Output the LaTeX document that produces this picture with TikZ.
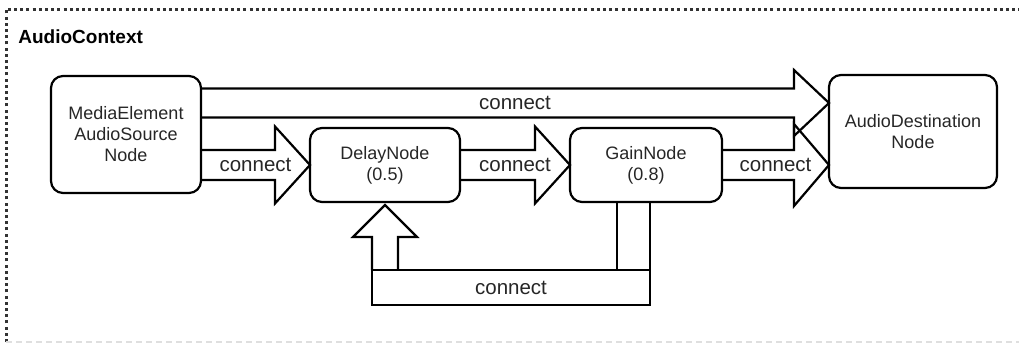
\documentclass[tikz,border=0pt]{standalone}
\usepackage{fontspec}
\setmainfont{Liberation Sans}
\usetikzlibrary{calc}

\begin{document}
\begin{tikzpicture}[x=0.5pt, y=-0.5pt,
    box/.style={draw, line width=1.1pt, rounded corners=6pt, align=center, inner sep=0pt, outer sep=0pt,
        text=black!85, font=\fontsize{9}{10.5}\selectfont},
    blockline/.style={draw, line width=1.1pt, line join=miter},
    conlabel/.style={inner sep=0pt, outer sep=0pt, text=black!85, font=\fontsize{10.25}{12}\selectfont}]
    \useasboundingbox (0,0) rectangle (1019,343);
    % context frame
    \draw[black!80, line width=1.5pt, dash pattern=on 1.5pt off 1.6pt] (6,342) -- (6,9) -- (1019,9);
    \draw[gray!25, line width=0.6pt, dash pattern=on 3pt off 2pt] (6,342) -- (1019,342);
    \node[anchor=base west, inner sep=0pt, font=\bfseries\fontsize{9.5}{11}\selectfont] (ctx) at (18,43) {AudioContext};
    % audio nodes
    \node[box, minimum width=75pt, minimum height=58.5pt] (src) at (126,134.5) {MediaElement\\AudioSource\\Node};
    \node[box, minimum width=75pt, minimum height=37pt] (dly) at (385,165) {DelayNode\\(0.5)};
    \node[box, minimum width=76pt, minimum height=37pt] (gain) at (646,165) {GainNode\\(0.8)};
    \node[box, minimum width=84pt, minimum height=56.5pt] (dest) at (913,131.5) {AudioDestination\\Node};
    % block arrows
    \coordinate (s1) at ($(src.north east)+(0,27)$);
    \coordinate (e1) at (dest.west |- s1);
    \coordinate (s2) at (src.east |- dly.west);
    \coordinate (e4) at (dest.west |- gain.east);
    \foreach \a/\b/\w/\h [count=\i] in {s1/e1/14.5/33, s2/dly.west/15/38.5, dly.east/gain.west/15/38.5, gain.east/e4/15/41}{
        \draw[blockline] ($(\a)+(0,-\w)$) -- ($(\b)+(-35,-\w)$) -- ($(\b)+(-35,-\h)$) -- (\b)
            -- ($(\b)+(-35,\h)$) -- ($(\b)+(-35,\w)$) -- ($(\a)+(0,\w)$);
        \node[conlabel] (con\i) at ($(\a)!0.5!(\b)$) {connect};
    }
    % feedback loop
    \node[draw, line width=1.1pt, minimum width=139pt, minimum height=17.5pt, conlabel] (bar) at (511,287.5) {connect};
    \draw[blockline] ([xshift=-16.5pt]bar.north east) rectangle (bar.north east |- gain.south);
    \draw[blockline] (bar.north west) -- ++(0,-33) -- ++(-19,0) -- ++(32,-32) -- ++(32,32) -- ++(-19,0) -- ++(0,33);
\end{tikzpicture}
\end{document}
